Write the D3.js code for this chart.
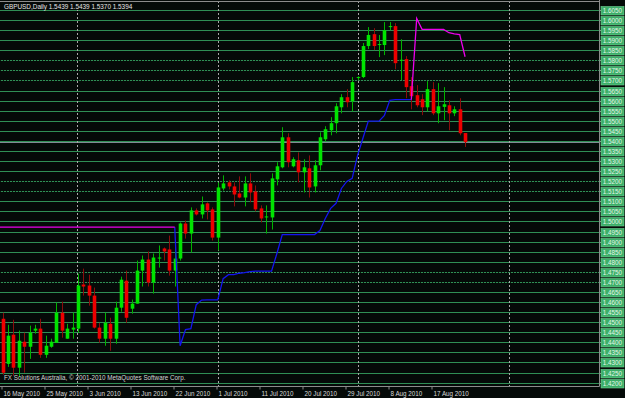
<!DOCTYPE html>
<html>
<head>
<meta charset="utf-8">
<script src="https://cdn.jsdelivr.net/npm/d3@7"></script>
<style>
  body { margin: 0; background: #000; }
  svg { display: block; }
  text { font-family: "Liberation Sans", Arial, sans-serif; }
</style>
</head>
<body>
<svg width="625" height="398"></svg>
<script>
// GBPUSD daily bars, 16 May 2010 .. 24 Aug 2010
var symbol = "GBPUSD,Daily";

var open = [
  1.4517,1.4293,1.4438,1.4274,1.4403,1.4378,1.4458,1.4468,1.4338,1.4378,
  1.4398,1.4547,1.4418,1.4463,1.4468,1.4687,1.4682,1.4632,1.4473,1.4418,
  1.4492,1.4418,1.4572,1.4706,1.4567,1.4592,1.4756,1.4811,1.4697,1.4816,
  1.4866,1.4861,1.4756,1.4816,1.4990,1.4940,1.5055,1.5035,1.5090,1.5060,
  1.4920,1.5164,1.5194,1.5174,1.5139,1.5119,1.5189,1.5149,1.5065,1.5020,
  1.5020,1.5209,1.5269,1.5418,1.5274,1.5304,1.5244,1.5264,1.5174,1.5279,
  1.5408,1.5453,1.5488,1.5567,1.5617,1.5597,1.5712,1.5717,1.5871,1.5930,
  1.5876,1.5876,1.5965,1.5970,1.5800,1.5806,1.5672,1.5627,1.5607,1.5567,
  1.5657,1.5537,1.5569,1.5577,1.5537,1.5557,1.5439];
var high = [
  1.4547,1.4487,1.4512,1.4458,1.4448,1.4483,1.4487,1.4517,1.4433,1.4418,
  1.4597,1.4602,1.4492,1.4547,1.4741,1.4766,1.4736,1.4672,1.4497,1.4547,
  1.4522,1.4602,1.4726,1.4756,1.4612,1.4806,1.4831,1.4851,1.4841,1.4881,
  1.4871,1.4930,1.4896,1.4995,1.5005,1.5070,1.5065,1.5124,1.5095,1.5070,
  1.5194,1.5229,1.5204,1.5194,1.5224,1.5224,1.5239,1.5179,1.5080,1.5080,
  1.5239,1.5294,1.5468,1.5438,1.5319,1.5343,1.5309,1.5328,1.5304,1.5443,
  1.5473,1.5518,1.5587,1.5632,1.5657,1.5717,1.5721,1.5886,1.5965,1.5960,
  1.5926,1.5990,1.5990,1.5985,1.5905,1.5821,1.5717,1.5677,1.5632,1.5697,
  1.5692,1.5687,1.5667,1.5602,1.5572,1.5612,1.5439];
var low = [
  1.4239,1.4278,1.4234,1.4229,1.4249,1.4318,1.4443,1.4323,1.4323,1.4373,
  1.4398,1.4423,1.4418,1.4418,1.4448,1.4632,1.4582,1.4468,1.4398,1.4383,
  1.4358,1.4393,1.4552,1.4497,1.4542,1.4592,1.4677,1.4677,1.4642,1.4771,
  1.4806,1.4731,1.4677,1.4806,1.4915,1.4846,1.5030,1.5015,1.5010,1.4905,
  1.4856,1.5154,1.5159,1.5075,1.5115,1.5075,1.5095,1.5050,1.4995,1.4940,
  1.4960,1.5179,1.5264,1.5269,1.5269,1.5194,1.5144,1.5119,1.5144,1.5254,
  1.5398,1.5428,1.5438,1.5537,1.5567,1.5547,1.5702,1.5712,1.5856,1.5851,
  1.5816,1.5826,1.5950,1.5756,1.5702,1.5612,1.5557,1.5567,1.5528,1.5547,
  1.5528,1.5488,1.5503,1.5453,1.5523,1.5428,1.5370];
var close = [
  1.4249,1.4433,1.4274,1.4408,1.4378,1.4448,1.4468,1.4338,1.4383,1.4403,
  1.4547,1.4458,1.4468,1.4473,1.4682,1.4677,1.4632,1.4473,1.4418,1.4497,
  1.4418,1.4572,1.4711,1.4522,1.4592,1.4756,1.4811,1.4697,1.4821,1.4821,
  1.4851,1.4756,1.4816,1.4990,1.4940,1.5055,1.5035,1.5085,1.5055,1.4920,
  1.5169,1.5189,1.5174,1.5134,1.5119,1.5189,1.5144,1.5060,1.5015,1.5025,
  1.5214,1.5274,1.5418,1.5294,1.5309,1.5244,1.5269,1.5169,1.5279,1.5418,
  1.5458,1.5488,1.5572,1.5617,1.5592,1.5692,1.5717,1.5871,1.5926,1.5871,
  1.5881,1.5950,1.5970,1.5786,1.5803,1.5667,1.5622,1.5577,1.5567,1.5657,
  1.5537,1.5572,1.5582,1.5537,1.5557,1.5438,1.5394];

// stop line indicator: magenta while short, blue while long
var stopDown = [
  1.4972,1.4972,1.4972,1.4972,1.4972,1.4972,1.4972,1.4972,1.4972,1.4972,
  1.4972,1.4972,1.4972,1.4972,1.4972,1.4972,1.4972,1.4972,1.4972,1.4972,
  1.4972,1.4972,1.4972,1.4972,1.4972,1.4972,1.4972,1.4972,1.4972,1.4972,
  1.4972,1.4972,1.4972,null,null,null,null,null,null,null,
  null,null,null,null,null,null,null,null,null,null,
  null,null,null,null,null,null,null,null,null,null,
  null,null,null,null,null,null,null,null,null,null,
  null,null,null,null,null,null,1.5605,1.6008,1.5954,1.5954,
  1.5954,1.5954,1.5954,1.5937,1.5931,1.5928,1.5818];
var stopUp = [
  null,null,null,null,null,null,null,null,null,null,
  null,null,null,null,null,null,null,null,null,null,
  null,null,null,null,null,null,null,null,null,null,
  null,null,1.4972,1.4383,1.4463,1.4468,1.4587,1.4610,1.4611,1.4611,
  1.4611,1.4716,1.4736,1.4736,1.4743,1.4746,1.4751,1.4753,1.4753,1.4753,
  1.4753,1.4841,1.4935,1.4935,1.4935,1.4935,1.4935,1.4935,1.4935,1.4955,
  1.5015,1.5065,1.5090,1.5164,1.5199,1.5214,1.5328,1.5413,1.5498,1.5498,
  1.5498,1.5527,1.5602,1.5605,1.5605,1.5605,1.5605,null,null,null,
  null,null,null,null,null,null,null];

var dateLabels = ["16 May 2010","25 May 2010","3 Jun 2010","13 Jun 2010","22 Jun 2010",
  "1 Jul 2010","11 Jul 2010","20 Jul 2010","29 Jul 2010","8 Aug 2010","17 Aug 2010"];
var dateLabelBars = [0, 8, 16, 24, 32, 40, 48, 56, 64, 72, 80];
var gridBars = [13.9, 40.1, 66, 94.1];

// horizontal level lines (each one has its own price tag on the axis)
var levels = [1.6050,1.6000,1.5950,1.5900,1.5850,1.5800,1.5750,1.5700,1.5650,1.5600,
  1.5550,1.5500,1.5450,1.5400,1.5350,1.5300,1.5250,1.5200,1.5150,1.5100,
  1.5050,1.5000,1.4950,1.4900,1.4850,1.4800,1.4750,1.4700,1.4650,1.4600,
  1.4550,1.4500,1.4450,1.4400,1.4350,1.4300,1.4250,1.4200];
var dottedLevels = [1.5800, 1.5750, 1.5700, 1.5200, 1.5150, 1.4750, 1.4700];
var bid = 1.5394;

var svg = d3.select('svg');
var svgWidth = +svg.attr('width');
var svgHeight = +svg.attr('height');
var plot = {l: 0, r: 599.5, t: 1, b: 386.5};

var xScale = d3.scaleLinear().domain([-0.5, 111]).range([plot.l, plot.r]);
var yScale = d3.scaleLinear().domain([1.4200, 1.6050]).range([382.6, 10]);
var px = v => Math.round(v) + 0.5;
var fmt = d3.format('.4f');

svg.append('rect')
  .attr('width', svgWidth).attr('height', svgHeight)
  .attr('fill', '#050a08');

svg.append('defs').append('clipPath').attr('id', 'clip')
  .append('rect')
  .attr('x', plot.l).attr('y', plot.t)
  .attr('width', plot.r - plot.l).attr('height', plot.b - plot.t);

var chart = svg.append('g').attr('clip-path', 'url(#clip)');

// green level lines
chart.selectAll('.level')
  .data(levels)
  .enter().append('line')
  .attr('class', 'level')
  .attr('x1', plot.l).attr('x2', plot.r)
  .attr('y1', d => px(yScale(d))).attr('y2', d => px(yScale(d)))
  .attr('stroke', '#2f8f55').attr('stroke-width', 1);

chart.selectAll('.dlevel')
  .data(dottedLevels)
  .enter().append('line')
  .attr('class', 'dlevel')
  .attr('x1', plot.l).attr('x2', plot.r)
  .attr('y1', d => px(yScale(d))).attr('y2', d => px(yScale(d)))
  .attr('stroke', '#0a1a10').attr('stroke-width', 1)
  .attr('stroke-dasharray', '1,2');

// bid line
chart.append('line')
  .attr('x1', plot.l).attr('x2', plot.r)
  .attr('y1', px(yScale(bid))).attr('y2', px(yScale(bid)))
  .attr('stroke', '#7f8c93').attr('stroke-width', 1);

// header
var last = open.length - 1;
var header = symbol + "  " + [open[last], high[last], low[last], close[last]].map(fmt).join(' ');
var headerText = svg.append('text')
  .attr('x', 4).attr('y', 9)
  .attr('font-size', 6.4)
  .attr('fill', '#e6e6e6')
  .text(header);
var hb = headerText.node().getBBox();
svg.insert('rect', 'text')
  .attr('x', 2).attr('y', 1.5)
  .attr('width', hb.width + 4).attr('height', 8.5)
  .attr('fill', '#050a08');

// vertical grid
chart.selectAll('.vgrid')
  .data(gridBars)
  .enter().append('line')
  .attr('class', 'vgrid')
  .attr('x1', d => px(xScale(d))).attr('x2', d => px(xScale(d)))
  .attr('y1', plot.t).attr('y2', plot.b)
  .attr('stroke', '#a8a8a8').attr('stroke-width', 1)
  .attr('stroke-dasharray', '2,2');

// candles
var bars = d3.range(open.length);
var up = i => close[i] >= open[i];
var bodyW = 3.6;

chart.selectAll('.wick')
  .data(bars)
  .enter().append('line')
  .attr('class', 'wick')
  .attr('x1', i => px(xScale(i))).attr('x2', i => px(xScale(i)))
  .attr('y1', i => yScale(high[i])).attr('y2', i => yScale(low[i]))
  .attr('stroke', i => up(i) ? '#00b400' : '#8a0c0c').attr('stroke-width', 1);

chart.selectAll('.candle')
  .data(bars)
  .enter().append('rect')
  .attr('class', 'candle')
  .attr('x', i => px(xScale(i)) - bodyW / 2)
  .attr('y', i => yScale(Math.max(open[i], close[i])))
  .attr('width', bodyW)
  .attr('height', i => Math.max(1, Math.abs(yScale(open[i]) - yScale(close[i]))))
  .attr('fill', i => up(i) ? '#00e400' : '#ee0000');

// stop lines
function stopPoints(arr) {
  var pts = arr.map((v, i) => [i, v]);
  if (arr[0] != null) pts.unshift([-1, arr[0]]); // continues from off-screen
  return pts;
}
var stopLine = d3.line()
  .defined(d => d[1] != null)
  .x(d => xScale(d[0]))
  .y(d => yScale(d[1]));

chart.append('path')
  .datum(stopPoints(stopUp))
  .attr('fill', 'none')
  .attr('stroke', '#1414f0')
  .attr('stroke-width', 1.3)
  .attr('d', stopLine);

chart.append('path')
  .datum(stopPoints(stopDown))
  .attr('fill', 'none')
  .attr('stroke', '#ec00ec')
  .attr('stroke-width', 1.3)
  .attr('d', stopLine);

// copyright
svg.append('text')
  .attr('x', 4).attr('y', 380)
  .attr('font-size', 6.3)
  .attr('fill', '#d4d4d4')
  .text("FX Solutions Australia, \u00A9 2001-2010 MetaQuotes Software Corp.");

// frame
svg.append('line')
  .attr('x1', plot.l).attr('x2', plot.r).attr('y1', 1.5).attr('y2', 1.5)
  .attr('stroke', '#8c8c8c');
svg.append('line')
  .attr('x1', plot.r).attr('x2', plot.r).attr('y1', 0).attr('y2', plot.b)
  .attr('stroke', '#8c8c8c');
svg.append('line')
  .attr('x1', plot.l).attr('x2', plot.r).attr('y1', plot.b).attr('y2', plot.b)
  .attr('stroke', '#8c8c8c');

// price axis tags
var tags = svg.append('g').selectAll('.tag')
  .data(levels)
  .enter().append('g')
  .attr('class', 'tag')
  .attr('transform', d => 'translate(' + [plot.r, px(yScale(d)) - 0.5] + ')');
tags.append('line')
  .attr('x1', 0).attr('x2', 2.5).attr('y1', 0.5).attr('y2', 0.5)
  .attr('stroke', '#8c8c8c');
tags.append('rect')
  .attr('x', 1.5).attr('y', -3.5)
  .attr('width', 23).attr('height', 8.5)
  .attr('fill', '#3cae68').attr('stroke', '#6fd394').attr('stroke-width', 0.6);
tags.append('text')
  .attr('x', 13).attr('y', 3)
  .attr('text-anchor', 'middle')
  .attr('font-size', 6.3)
  .attr('fill', '#e4f8e8')
  .text(d => fmt(d));

// date axis
var dates = svg.append('g').selectAll('.date')
  .data(dateLabelBars)
  .enter().append('g')
  .attr('class', 'date')
  .attr('transform', d => 'translate(' + [px(xScale(d)) - 1.5, plot.b] + ')');
dates.append('line')
  .attr('x1', 0).attr('x2', 0).attr('y1', 0).attr('y2', 3)
  .attr('stroke', '#8c8c8c');
dates.append('text')
  .attr('x', 1.5).attr('y', 9)
  .attr('font-size', 6.3)
  .attr('fill', '#d8d8d8')
  .text((d, i) => dateLabels[i]);
</script>
</body>
</html>
